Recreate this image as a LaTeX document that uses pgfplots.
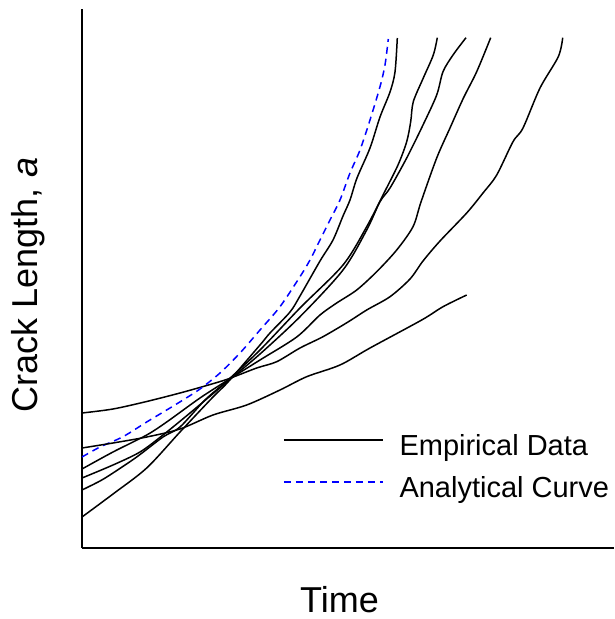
\documentclass[border=0pt]{standalone}
\usepackage{fontspec}
\setmainfont{Liberation Sans}
\usepackage{pgfplots}
\pgfplotsset{compat=1.18}
\begin{document}
\begin{tikzpicture}
\begin{axis}[
  scale only axis, width=532pt, height=539pt,
  xmin=0, xmax=532, ymin=0, ymax=539,
  axis lines=left, axis line style={-, line width=1.8pt},
  xtick=\empty, ytick=\empty,
  legend style={draw=none, fill=none, at={(axis cs:201,114)}, anchor=north west,
    inner sep=0pt, outer sep=0pt, font=\fontsize{29}{29}\selectfont,
    /tikz/row sep=15pt, /tikz/column sep=16pt,
    nodes={inner sep=0pt, text height=21pt, text depth=6pt}},
  legend image code/.code={\path (0pt,0pt); \draw[#1] (0pt,7.5pt) -- (99pt,7.5pt);},
  legend cell align=left,
  every axis plot/.append style={line width=1.5pt, smooth, tension=0.5},
]
% Empirical curve 5 (starts highest, ends rightmost)
\addplot[black] coordinates {
(0,135) (31,139) (64.7,146.5) (98,155) (124.7,162.5) (146,169) (174.7,180) (194.7,186.3)
(218,200) (241,211.3) (266,226) (284.7,238) (308,251.3) (328,269) (341,287) (358,307)
(384.7,335) (401,355) (414.7,373) (431,406.3) (441,420) (458,460) (476.3,491.3) (480.7,510.3)};
\addlegendentry{Empirical Data}
% Analytical curve
\addplot[blue, dash pattern=on 7pt off 5pt] coordinates {
(0,91) (18,101) (41,111.3) (64.7,126) (84.7,138) (101,148) (118,159) (138,175) (158,195)
(178,218) (198,241.3) (218,271.3) (228,288) (238,308) (248,328) (258,348) (268,375)
(278,398) (288,428) (298,461.3) (303,483) (306.3,509)};
\addlegendentry{Analytical Curve}
% flattest empirical curve
\addplot[black, forget plot] coordinates {
(0,100) (31,105) (64.7,111) (98,119) (131,133) (164.7,143) (198,158) (224.7,171.3)
(258,183) (288,200) (339.7,228) (361,241.3) (384.7,253)};
% steepest empirical curve
\addplot[black, forget plot] coordinates {
(0,31) (31,54) (64.7,80) (98,116) (131,151) (146,166) (178,203) (188,215) (208,236)
(218,252) (238,287) (251,308) (261,332) (268,348) (275,370) (288,400) (298,431)
(308,456) (313,476) (315.3,510)};
\addplot[black, forget plot] coordinates {
(0,58) (18,67) (31,75) (54.7,91) (81,111) (98,121) (123,148) (146,168) (178,198)
(218,240) (261,283) (284.7,321.3) (301,353) (316,383) (324.7,406.3) (328.7,426.3)
(331.3,446.3) (341.3,470) (351.3,493) (355.3,510.3)};
\addplot[black, forget plot] coordinates {
(0,70) (31,83) (58,96) (81,113) (108,135) (146,167) (178,194) (218,231.3) (261,278)
(284.7,318) (298,346.3) (308,360) (324.7,390) (341,423) (354.7,453) (361,476.3)
(371,493) (384,510.3)};
\addplot[black, forget plot] coordinates {
(0,79) (31,96) (64.7,113) (84.7,126) (118,150) (146,168) (178,188) (214.7,211)
(238,233) (254.7,245) (274.7,258) (294.7,276.3) (314.7,298) (331,321.3) (339,346)
(354.7,390) (368,420) (381.3,449.7) (394.7,476.3) (408.7,510.3)};
\coordinate (ll) at (rel axis cs:0,0);
\coordinate (ur) at (rel axis cs:1,1);
\end{axis}
\node[rotate=90, font=\fontsize{36}{36}\selectfont] at ([xshift=-54pt,yshift=263pt]ll) {Crack Length, \textit{a}};
\node[anchor=base, font=\fontsize{36}{36}\selectfont] at ([xshift=257.5pt,yshift=-64pt]ll) {Time};
\pgfresetboundingbox
\path[use as bounding box] ([xshift=-82pt,yshift=-71pt]ll) rectangle ([yshift=9pt]ur);
\end{tikzpicture}
\end{document}
